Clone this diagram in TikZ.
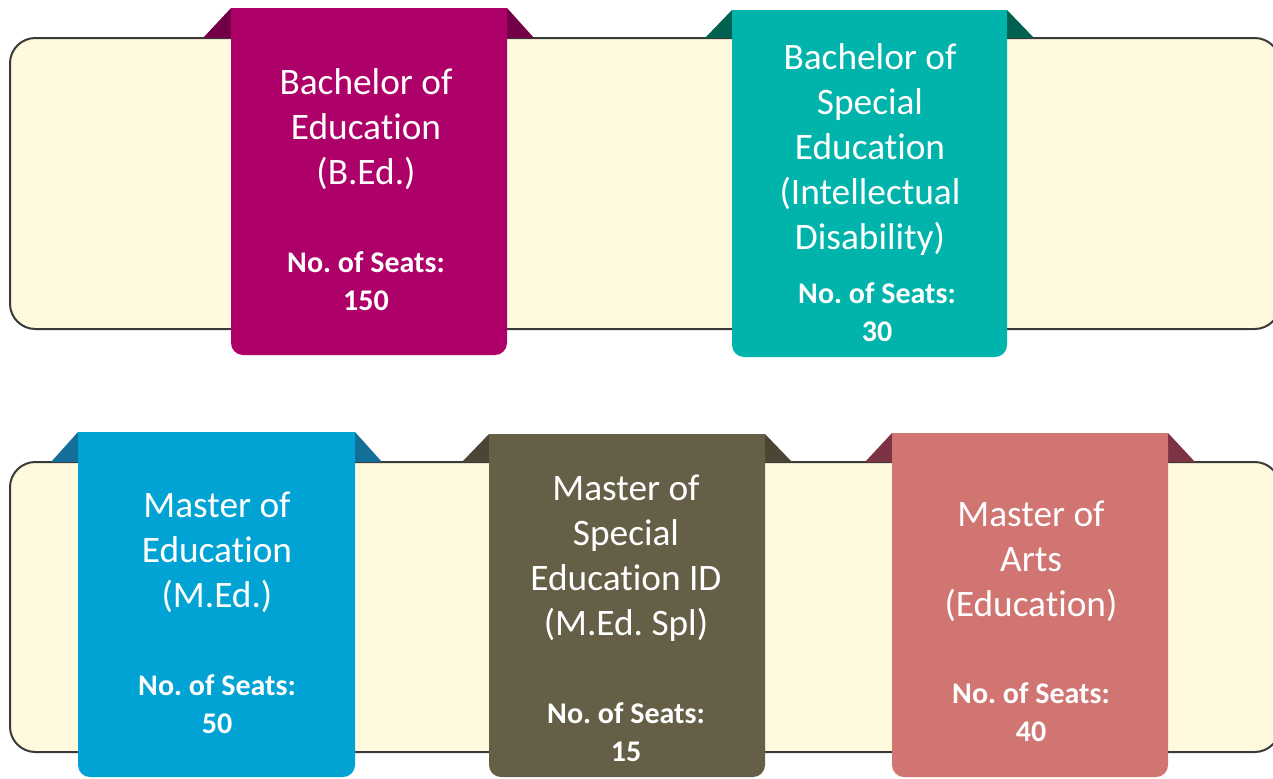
\documentclass[tikz,border=0pt]{standalone}
\usepackage{fontspec}
\setmainfont[Ligatures=NoCommon]{Carlito}
\frenchspacing
\definecolor{bandfill}{HTML}{FFF9DD}
\definecolor{bandline}{HTML}{3A3A3A}
\definecolor{bedfill}{HTML}{AD0068}
\definecolor{bedtab}{HTML}{730047}
\definecolor{bsefill}{HTML}{00B4AC}
\definecolor{bsetab}{HTML}{006150}
\definecolor{medfill}{HTML}{00A3D4}
\definecolor{medtab}{HTML}{136F98}
\definecolor{mspfill}{HTML}{665F47}
\definecolor{msptab}{HTML}{4A4535}
\definecolor{mafill}{HTML}{D07571}
\definecolor{matab}{HTML}{7E3345}
\tikzset{band/.style = {fill=bandfill, draw=bandline, line width=1.5pt, rounded corners=19pt},
         ribbon/.style = {fill=#1, rounded corners=9pt},
         title/.style = {text=white, align=center, font=\fontsize{28}{33.75}\selectfont},
         seats/.style = {text=white, align=center, font=\bfseries\fontsize{22.5}{28.5}\selectfont}}

\begin{document}
\begin{tikzpicture}[x=0.75pt, y=-0.75pt]
  \clip (0,0) rectangle (1273,778);
  % bands
  \draw [band] (10,38) rectangle (1280,329);
  \draw [band] (10,462) rectangle (1280,752);
  % upper ribbons
  \fill [bedtab] (203,38) -- (231,8) -- (507,8) -- (534,38) -- cycle;
  \fill [ribbon=bedfill] (231,8) rectangle (507,355);
  \fill [bedfill] (231,8) rectangle (507,330);
  \fill [bsetab] (705,38) -- (732,10) -- (1007,10) -- (1034,38) -- cycle;
  \fill [ribbon=bsefill] (732,10) rectangle (1007,357);
  \fill [bsefill] (732,10) rectangle (1007,330);
  % lower ribbons
  \fill [medtab] (51,462) -- (78,432) -- (355,432) -- (382,462) -- cycle;
  \fill [ribbon=medfill] (78,432) rectangle (355,777);
  \fill [medfill] (78,432) rectangle (355,750);
  \fill [msptab] (462,462) -- (489,434) -- (765,434) -- (792,462) -- cycle;
  \fill [ribbon=mspfill] (489,434) rectangle (765,777);
  \fill [mspfill] (489,434) rectangle (765,750);
  \fill [matab] (865,462) -- (892,433) -- (1168,433) -- (1195,462) -- cycle;
  \fill [ribbon=mafill] (892,433) rectangle (1168,777);
  \fill [mafill] (892,433) rectangle (1168,750);
  % texts
  \node [title] (bed) at (366,129) {Bachelor of\\Education\\(B.Ed.)};
  \node [seats] (bedseats) at (366,281) {No. of Seats:\\150};
  \node [title] (bse) at (870,150) {Bachelor of\\Special\\Education\\(Intellectual\\Disability)};
  \node [seats] (bseseats) at (877,312) {No. of Seats:\\30};
  \node [title] (med) at (217,552) {Master of\\Education\\(M.Ed.)};
  \node [seats] (medseats) at (217,704) {No. of Seats:\\50};
  \node [title] (msp) at (626,558) {Master of\\Special\\Education ID\\(M.Ed. Spl)};
  \node [seats] (mspseats) at (626,732) {No. of Seats:\\15};
  \node [title] (ma) at (1031,561) {Master of\\Arts\\(Education)};
  \node [seats] (maseats) at (1031,712) {No. of Seats:\\40};
\end{tikzpicture}
\end{document}
